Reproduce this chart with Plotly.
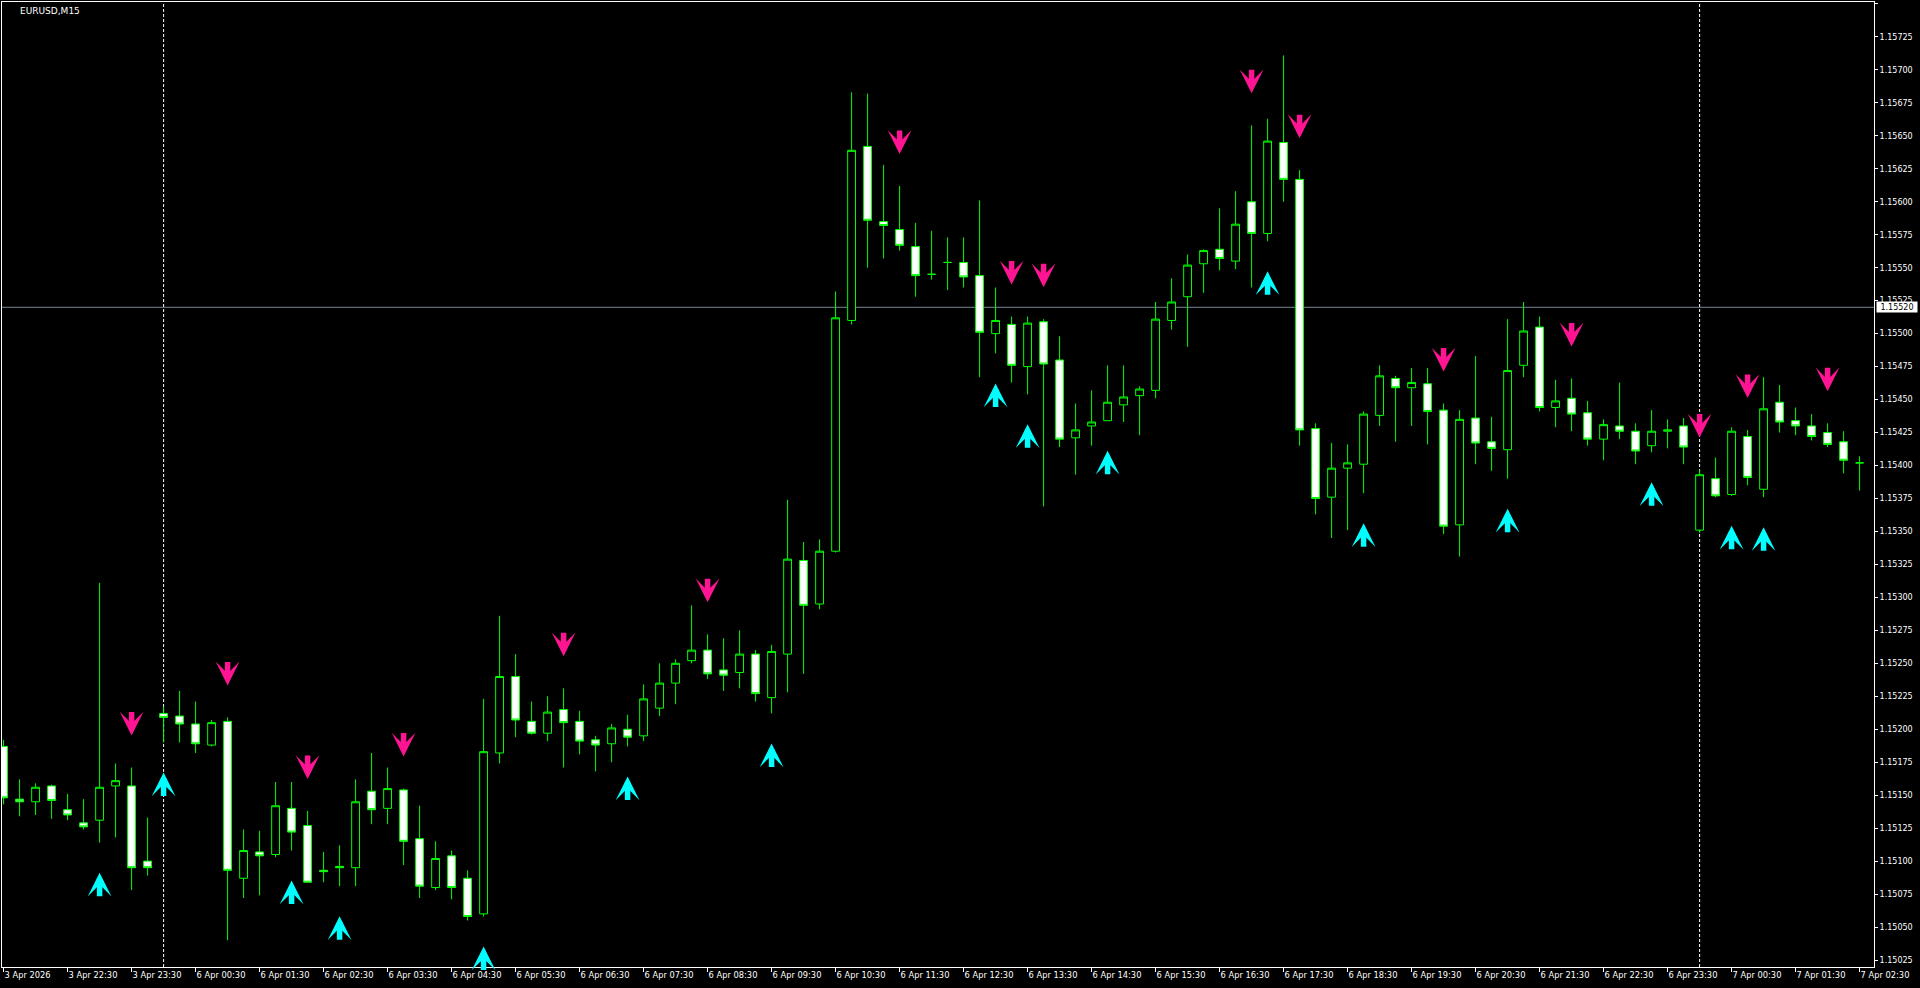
import plotly.graph_objects as go

symbol_title = "EURUSD,M15"

opens = [1.15187, 1.15147, 1.15145, 1.15157, 1.15139, 1.15129, 1.15131, 1.15157, 1.15157, 1.15100,
         1.15212, 1.15210, 1.15204, 1.15188, 1.15206, 1.15087, 1.15107, 1.15105, 1.15140, 1.15127,
         1.15093, 1.15096, 1.15095, 1.15153, 1.15140, 1.15154, 1.15117, 1.15080, 1.15104, 1.15087,
         1.15060, 1.15182, 1.15240, 1.15206, 1.15197, 1.15215, 1.15206, 1.15192, 1.15189, 1.15200,
         1.15195, 1.15216, 1.15235, 1.15252, 1.15260, 1.15245, 1.15243, 1.15257, 1.15224, 1.15257,
         1.15328, 1.15295, 1.15335, 1.15510, 1.15642, 1.15585, 1.15579, 1.15566, 1.15545, 1.15554,
         1.15554, 1.15544, 1.15500, 1.15507, 1.15475, 1.15509, 1.15480, 1.15421, 1.15430, 1.15434,
         1.15446, 1.15453, 1.15457, 1.15510, 1.15528, 1.15553, 1.15564, 1.15555, 1.15600, 1.15576,
         1.15645, 1.15617, 1.15428, 1.15376, 1.15398, 1.15401, 1.15438, 1.15466, 1.15459, 1.15462,
         1.15442, 1.15355, 1.15436, 1.15418, 1.15412, 1.15476, 1.15505, 1.15444, 1.15451, 1.15440,
         1.15420, 1.15430, 1.15426, 1.15415, 1.15426, 1.15430, 1.15351, 1.15390, 1.15378, 1.15422,
         1.15382, 1.15448, 1.15434, 1.15430, 1.15425, 1.15418, 1.15402]
highs = [1.15192, 1.15162, 1.15159, 1.15158, 1.15151, 1.15147, 1.15311, 1.15174, 1.15171, 1.15133,
         1.15217, 1.15229, 1.15221, 1.15207, 1.15209, 1.15124, 1.15123, 1.15160, 1.15160, 1.15138,
         1.15107, 1.15112, 1.15162, 1.15182, 1.15171, 1.15155, 1.15142, 1.15115, 1.15108, 1.15093,
         1.15223, 1.15286, 1.15257, 1.15221, 1.15225, 1.15231, 1.15214, 1.15195, 1.15204, 1.15211,
         1.15234, 1.15250, 1.15253, 1.15294, 1.15272, 1.15269, 1.15275, 1.15260, 1.15264, 1.15374,
         1.15342, 1.15344, 1.15532, 1.15683, 1.15682, 1.15628, 1.15612, 1.15584, 1.15578, 1.15573,
         1.15573, 1.15601, 1.15535, 1.15513, 1.15513, 1.15511, 1.15498, 1.15447, 1.15457, 1.15476,
         1.15476, 1.15460, 1.15524, 1.15542, 1.15560, 1.15564, 1.15595, 1.15608, 1.15658, 1.15663,
         1.15711, 1.15624, 1.15432, 1.15417, 1.15416, 1.15441, 1.15476, 1.15468, 1.15474, 1.15474,
         1.15447, 1.15442, 1.15483, 1.15437, 1.15511, 1.15524, 1.15513, 1.15465, 1.15466, 1.15449,
         1.15435, 1.15463, 1.15432, 1.15442, 1.15435, 1.15436, 1.15397, 1.15406, 1.15429, 1.15427,
         1.15467, 1.15461, 1.15444, 1.15439, 1.15432, 1.15426, 1.15407]
lows = [1.15143, 1.15134, 1.15135, 1.15132, 1.15131, 1.15124, 1.15114, 1.15118, 1.15078, 1.15089,
        1.15190, 1.15190, 1.15182, 1.15187, 1.15040, 1.15072, 1.15074, 1.15103, 1.15108, 1.15084,
        1.15084, 1.15081, 1.15081, 1.15128, 1.15128, 1.15097, 1.15072, 1.15078, 1.15071, 1.15055,
        1.15058, 1.15174, 1.15194, 1.15196, 1.15191, 1.15171, 1.15181, 1.15168, 1.15175, 1.15187,
        1.15191, 1.15210, 1.15219, 1.15250, 1.15238, 1.15229, 1.15231, 1.15221, 1.15212, 1.15228,
        1.15242, 1.15291, 1.15334, 1.15507, 1.15550, 1.15557, 1.15563, 1.15528, 1.15541, 1.15533,
        1.15535, 1.15467, 1.15485, 1.15463, 1.15454, 1.15369, 1.15414, 1.15393, 1.15415, 1.15434,
        1.15433, 1.15423, 1.15451, 1.15503, 1.15490, 1.15531, 1.15548, 1.15549, 1.15535, 1.15570,
        1.15600, 1.15415, 1.15363, 1.15345, 1.15351, 1.15379, 1.15430, 1.15418, 1.15430, 1.15416,
        1.15348, 1.15331, 1.15401, 1.15396, 1.15390, 1.15467, 1.15441, 1.15429, 1.15426, 1.15415,
        1.15404, 1.15420, 1.15401, 1.15410, 1.15413, 1.15401, 1.15349, 1.15376, 1.15377, 1.15385,
        1.15376, 1.15425, 1.15423, 1.15419, 1.15414, 1.15394, 1.15381]
closes = [1.15148, 1.15145, 1.15156, 1.15146, 1.15135, 1.15126, 1.15156, 1.15161, 1.15095, 1.15095,
          1.15209, 1.15204, 1.15189, 1.15205, 1.15093, 1.15108, 1.15104, 1.15142, 1.15122, 1.15084,
          1.15092, 1.15095, 1.15145, 1.15139, 1.15155, 1.15115, 1.15081, 1.15102, 1.15080, 1.15058,
          1.15183, 1.15240, 1.15207, 1.15197, 1.15213, 1.15205, 1.15191, 1.15188, 1.15201, 1.15194,
          1.15223, 1.15235, 1.15250, 1.15260, 1.15242, 1.15241, 1.15257, 1.15227, 1.15259, 1.15329,
          1.15294, 1.15335, 1.15512, 1.15639, 1.15586, 1.15582, 1.15567, 1.15544, 1.15545, 1.15554,
          1.15543, 1.15501, 1.15510, 1.15476, 1.15508, 1.15477, 1.15420, 1.15427, 1.15433, 1.15448,
          1.15452, 1.15458, 1.15511, 1.15524, 1.15552, 1.15563, 1.15557, 1.15583, 1.15576, 1.15646,
          1.15617, 1.15427, 1.15375, 1.15398, 1.15402, 1.15439, 1.15468, 1.15459, 1.15463, 1.15441,
          1.15354, 1.15435, 1.15417, 1.15413, 1.15472, 1.15502, 1.15444, 1.15449, 1.15439, 1.15420,
          1.15431, 1.15426, 1.15411, 1.15426, 1.15427, 1.15414, 1.15393, 1.15377, 1.15426, 1.15391,
          1.15443, 1.15433, 1.15430, 1.15422, 1.15416, 1.15404, 1.15402]

time_labels = ["3 Apr 2026", "3 Apr 22:30", "3 Apr 23:30",
               "6 Apr 00:30", "6 Apr 01:30", "6 Apr 02:30", "6 Apr 03:30", "6 Apr 04:30",
               "6 Apr 05:30", "6 Apr 06:30", "6 Apr 07:30", "6 Apr 08:30", "6 Apr 09:30",
               "6 Apr 10:30", "6 Apr 11:30", "6 Apr 12:30", "6 Apr 13:30", "6 Apr 14:30",
               "6 Apr 15:30", "6 Apr 16:30", "6 Apr 17:30", "6 Apr 18:30", "6 Apr 19:30",
               "6 Apr 20:30", "6 Apr 21:30", "6 Apr 22:30", "6 Apr 23:30",
               "7 Apr 00:30", "7 Apr 01:30", "7 Apr 02:30"]
time_label_bars = [0] + list(range(4, 117, 4))

sell_arrow_bars = [8, 14, 19, 25, 35, 44, 56, 63, 65, 78, 81, 90, 98, 106, 109, 114]
buy_arrow_bars = [6, 10, 18, 21, 30, 39, 48, 62, 64, 69, 79, 85, 94, 103, 108, 110]

day_separator_bars = [10, 106]
bid_price = 1.15520

bars = list(range(len(opens)))

GREEN = "#00FF00"
PINK = "#FF1493"
CYAN = "#00FFFF"
FONT = "DejaVu Sans"

fig = go.Figure()
fig.add_trace(go.Candlestick(
    x=bars, open=opens, high=highs, low=lows, close=closes,
    increasing=dict(line=dict(color=GREEN, width=1), fillcolor="#000000"),
    decreasing=dict(line=dict(color=GREEN, width=1), fillcolor="#FFFFFF"),
    whiskerwidth=0, hoverinfo="skip", showlegend=False,
))

for b in day_separator_bars:
    fig.add_shape(type="line", x0=b, x1=b, xref="x", y0=0, y1=1, yref="paper",
                  line=dict(color="#FFFFFF", width=1, dash="3px,2px"), layer="below")

fig.add_shape(type="line", x0=0, x1=1, xref="paper", y0=bid_price, y1=bid_price, yref="y",
              line=dict(color="#778899", width=1), layer="below")

annotations = []
for b in sell_arrow_bars:
    annotations.append(dict(x=b, y=highs[b], xref="x", yref="y", text="", showarrow=True,
                            ax=0, ay=-25, yshift=32, arrowhead=3, arrowsize=0.72, arrowwidth=5.5,
                            arrowcolor=PINK, standoff=0))
for b in buy_arrow_bars:
    annotations.append(dict(x=b, y=lows[b], xref="x", yref="y", text="", showarrow=True,
                            ax=0, ay=25, yshift=-30, arrowhead=3, arrowsize=0.72, arrowwidth=5.5,
                            arrowcolor=CYAN, standoff=0))

annotations.append(dict(x=1, xref="paper", xanchor="left", xshift=2, y=bid_price, yref="y",
                        text=f"{bid_price:.5f}", showarrow=False, bgcolor="#FFFFFF",
                        font=dict(family=FONT, size=8, color="#000000"),
                        width=40, height=10, borderpad=0))
annotations.append(dict(x=0.0085, y=0.9907, xref="paper", yref="paper", xanchor="left",
                        yanchor="middle", text=symbol_title, showarrow=False,
                        font=dict(family=FONT, size=9, color="#FFFFFF")))

fig.update_layout(
    width=1920, height=988,
    margin=dict(l=2, r=46, t=2, b=21, pad=0),
    paper_bgcolor="#000000", plot_bgcolor="#000000",
    showlegend=False,
    annotations=annotations,
    xaxis=dict(
        range=[-0.1, 116.9], rangeslider=dict(visible=False),
        tickmode="array", tickvals=time_label_bars, ticktext=time_labels,
        ticks="outside", ticklen=4, tickcolor="#FFFFFF", tickwidth=1,
        ticklabelposition="outside right",
        tickfont=dict(family=FONT, size=8.3, color="#FFFFFF"),
        showgrid=False, zeroline=False, showline=True, mirror=True,
        linecolor="#FFFFFF", linewidth=1,
    ),
    yaxis=dict(
        range=[1.150197, 1.157515], side="right",
        tick0=1.15, dtick=0.00025, tickformat=".5f",
        ticks="outside", ticklen=3, tickcolor="#FFFFFF", tickwidth=1,
        tickfont=dict(family=FONT, size=8, color="#FFFFFF"),
        showgrid=False, zeroline=False, showline=True, mirror=True,
        linecolor="#FFFFFF", linewidth=1,
    ),
)

fig.write_html(
    "out.html",
    config={"displayModeBar": False},
    post_script="document.body.style.margin='0';document.body.style.overflow='hidden';",
)
